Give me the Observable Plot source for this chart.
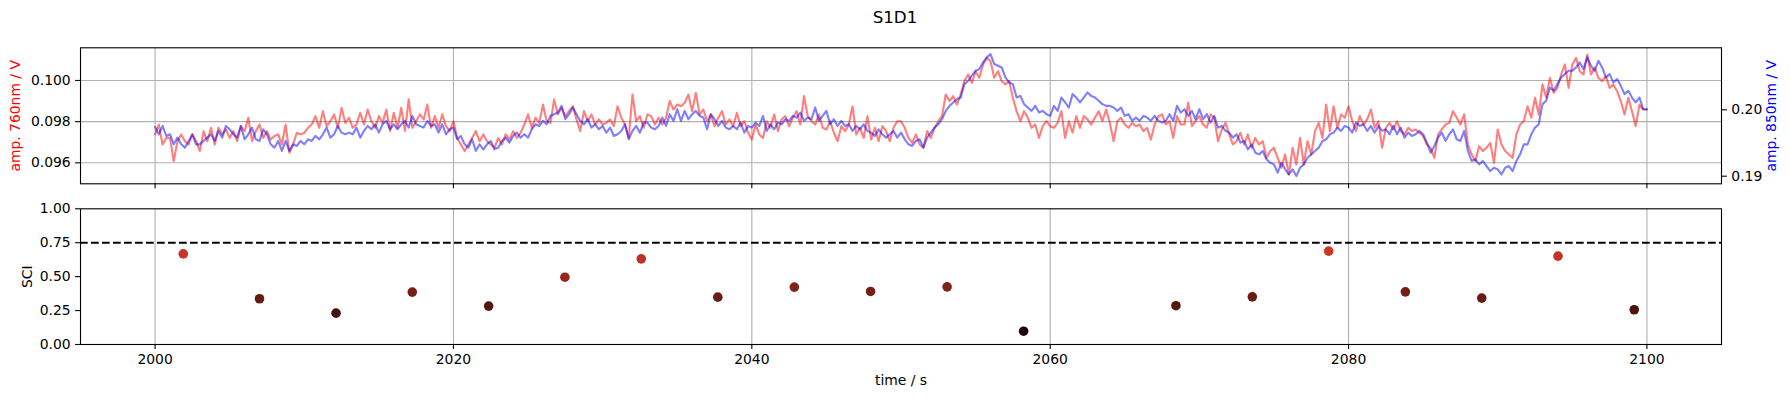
<!DOCTYPE html>
<html><head><meta charset="utf-8">
<script src="https://cdn.jsdelivr.net/npm/d3@7"></script>
<script src="https://cdn.jsdelivr.net/npm/@observablehq/plot@0.6"></script>
<style>
html,body{margin:0;padding:0;background:#fff;}
#wrap{position:relative;width:1790px;height:397px;overflow:hidden;font-family:"DejaVu Sans",sans-serif;color:#000;}
#title{position:absolute;left:0;top:7px;width:1790px;text-align:center;font-size:16.7px;line-height:20px;}
.layer{position:absolute;left:0;}
</style></head><body>
<div id="wrap"><div id="title">S1D1</div></div>
<script>
// sampling of the two amplitude series (s)
const t0 = 2000, dt = 0.25;
// amp. 760nm / V  (left axis)
const amp760 = [
0.09738,0.09786,0.09689,0.09721, 0.09721,0.09608,0.09705,0.09738, 0.09705,0.09689,0.09738,0.09705, 0.09657,0.09754,0.09705,0.09770,
0.09689,0.09770,0.09738,0.09762, 0.09721,0.09754,0.09705,0.09778, 0.09754,0.09819,0.09705,0.09754, 0.09786,0.09721,0.09754,0.09713,
0.09730,0.09738,0.09689,0.09786, 0.09649,0.09689,0.09746,0.09738, 0.09746,0.09770,0.09786,0.09827, 0.09770,0.09851,0.09778,0.09802,
0.09835,0.09770,0.09867,0.09794, 0.09819,0.09770,0.09786,0.09843, 0.09786,0.09859,0.09802,0.09770, 0.09827,0.09794,0.09859,0.09754,
0.09843,0.09770,0.09867,0.09754, 0.09908,0.09770,0.09802,0.09835, 0.09811,0.09883,0.09770,0.09827, 0.09770,0.09835,0.09778,0.09754,
0.09802,0.09721,0.09689,0.09657, 0.09689,0.09721,0.09754,0.09705, 0.09738,0.09705,0.09689,0.09673, 0.09721,0.09689,0.09738,0.09713,
0.09754,0.09721,0.09746,0.09786, 0.09835,0.09770,0.09819,0.09794, 0.09883,0.09802,0.09794,0.09908, 0.09835,0.09867,0.09827,0.09851,
0.09875,0.09811,0.09754,0.09851, 0.09802,0.09835,0.09786,0.09811, 0.09786,0.09794,0.09811,0.09778, 0.09875,0.09819,0.09786,0.09721,
0.09932,0.09802,0.09827,0.09770, 0.09835,0.09827,0.09786,0.09819, 0.09786,0.09819,0.09900,0.09859, 0.09883,0.09875,0.09892,0.09932,
0.09851,0.09940,0.09835,0.09859, 0.09802,0.09835,0.09778,0.09819, 0.09851,0.09786,0.09811,0.09778, 0.09843,0.09778,0.09802,0.09746,
0.09713,0.09786,0.09738,0.09721, 0.09802,0.09770,0.09835,0.09754, 0.09811,0.09827,0.09778,0.09819, 0.09851,0.09786,0.09924,0.09827,
0.09802,0.09786,0.09835,0.09770, 0.09762,0.09802,0.09746,0.09705, 0.09778,0.09754,0.09786,0.09875, 0.09738,0.09770,0.09721,0.09827,
0.09713,0.09770,0.09705,0.09778, 0.09754,0.09705,0.09770,0.09802, 0.09802,0.09770,0.09721,0.09697, 0.09738,0.09689,0.09673,0.09754,
0.09721,0.09770,0.09802,0.09827, 0.09932,0.09900,0.09924,0.09883, 0.09932,0.09997,0.10029,0.09989, 0.10045,0.10013,0.10078,0.10110,
0.10094,0.10013,0.10045,0.09997, 0.09981,0.09997,0.09916,0.09851, 0.09802,0.09851,0.09819,0.09770, 0.09786,0.09721,0.09778,0.09802,
0.09778,0.09770,0.09794,0.09851, 0.09721,0.09802,0.09746,0.09827, 0.09770,0.09827,0.09811,0.09786, 0.09819,0.09851,0.09802,0.09859,
0.09794,0.09705,0.09802,0.09819, 0.09786,0.09770,0.09794,0.09778, 0.09786,0.09754,0.09770,0.09713, 0.09786,0.09827,0.09835,0.09786,
0.09802,0.09721,0.09827,0.09786, 0.09786,0.09892,0.09778,0.09802, 0.09827,0.09786,0.09770,0.09835, 0.09819,0.09705,0.09762,0.09794,
0.09738,0.09689,0.09705,0.09746, 0.09689,0.09738,0.09673,0.09721, 0.09689,0.09705,0.09624,0.09657, 0.09673,0.09624,0.09576,0.09640,
0.09543,0.09673,0.09592,0.09721, 0.09592,0.09705,0.09640,0.09754, 0.09794,0.09721,0.09883,0.09754, 0.09875,0.09770,0.09835,0.09819,
0.09875,0.09802,0.09754,0.09827, 0.09786,0.09811,0.09859,0.09770, 0.09802,0.09673,0.09770,0.09794, 0.09762,0.09802,0.09754,0.09738,
0.09770,0.09754,0.09762,0.09746, 0.09730,0.09689,0.09673,0.09624, 0.09738,0.09762,0.09786,0.09794, 0.09851,0.09819,0.09786,0.09835,
0.09689,0.09640,0.09608,0.09681, 0.09657,0.09673,0.09697,0.09600, 0.09762,0.09689,0.09657,0.09640, 0.09624,0.09738,0.09786,0.09802,
0.09875,0.09819,0.09916,0.09835, 0.09981,0.09916,0.10013,0.09940, 0.09964,0.10029,0.10078,0.09964, 0.10078,0.10110,0.10045,0.10029,
0.10126,0.10029,0.10062,0.10013, 0.09997,0.10021,0.09964,0.09981, 0.09948,0.09900,0.09835,0.09916, 0.09851,0.09778,0.09883,0.09859,
0.09859
];
// amp. 850nm / V  (right axis)
const amp850 = [
0.19742,0.19631,0.19757,0.19606, 0.19631,0.19480,0.19581,0.19480, 0.19430,0.19531,0.19631,0.19480, 0.19480,0.19531,0.19581,0.19631,
0.19531,0.19682,0.19581,0.19757, 0.19707,0.19631,0.19581,0.19757, 0.19556,0.19631,0.19732,0.19556, 0.19531,0.19707,0.19631,0.19480,
0.19430,0.19531,0.19380,0.19531, 0.19380,0.19480,0.19455,0.19531, 0.19480,0.19556,0.19531,0.19606, 0.19556,0.19631,0.19732,0.19581,
0.19631,0.19757,0.19656,0.19631, 0.19656,0.19631,0.19732,0.19581, 0.19682,0.19757,0.19707,0.19782, 0.19656,0.19782,0.19833,0.19707,
0.19782,0.19707,0.19782,0.19833, 0.19732,0.19908,0.19782,0.19757, 0.19732,0.19833,0.19757,0.19782, 0.19656,0.19782,0.19631,0.19707,
0.19732,0.19556,0.19606,0.19480, 0.19430,0.19556,0.19380,0.19480, 0.19405,0.19480,0.19531,0.19405, 0.19430,0.19531,0.19581,0.19505,
0.19606,0.19656,0.19581,0.19631, 0.19581,0.19707,0.19782,0.19757, 0.19833,0.19782,0.19908,0.19934, 0.19959,0.20059,0.19858,0.19934,
0.20034,0.19934,0.19833,0.19782, 0.19858,0.19732,0.19782,0.19707, 0.19757,0.19656,0.19732,0.19606, 0.19631,0.19682,0.19782,0.19556,
0.19682,0.19757,0.19656,0.19808, 0.19808,0.19732,0.19707,0.19757, 0.19883,0.19757,0.19934,0.19833, 0.20009,0.19833,0.19984,0.19858,
0.19934,0.19984,0.19908,0.19883, 0.19707,0.19934,0.19858,0.19757, 0.19833,0.19732,0.19707,0.19757, 0.19707,0.19808,0.19656,0.19757,
0.19732,0.19808,0.19757,0.19908, 0.19682,0.19782,0.19707,0.19808, 0.19782,0.19858,0.19833,0.19908, 0.19883,0.19959,0.19833,0.19883,
0.19858,0.20034,0.19833,0.19908, 0.19984,0.19782,0.19858,0.19757, 0.19833,0.19757,0.19782,0.19682, 0.19757,0.19707,0.19782,0.19682,
0.19656,0.19606,0.19707,0.19631, 0.19581,0.19631,0.19682,0.19581, 0.19656,0.19556,0.19480,0.19455, 0.19531,0.19556,0.19430,0.19581,
0.19656,0.19732,0.19782,0.19858, 0.19984,0.20059,0.20110,0.20160, 0.20185,0.20387,0.20437,0.20513, 0.20588,0.20613,0.20714,0.20790,
0.20840,0.20689,0.20663,0.20638, 0.20487,0.20412,0.20387,0.20185, 0.20210,0.20085,0.20034,0.19984, 0.20059,0.19959,0.19984,0.19934,
0.19908,0.20059,0.19984,0.20185, 0.20110,0.20034,0.20236,0.20185, 0.20110,0.20185,0.20261,0.20210, 0.20185,0.20135,0.20085,0.20059,
0.20059,0.20034,0.19984,0.20034, 0.19908,0.19934,0.19833,0.19883, 0.19833,0.19908,0.19883,0.19833, 0.19908,0.19833,0.19808,0.19833,
0.19934,0.19833,0.20059,0.19959, 0.20009,0.19908,0.19984,0.19858, 0.20009,0.19858,0.19934,0.19808, 0.19908,0.19732,0.19757,0.19682,
0.19656,0.19581,0.19631,0.19505, 0.19531,0.19405,0.19480,0.19354, 0.19329,0.19380,0.19254,0.19203, 0.19178,0.19052,0.19203,0.19103,
0.19027,0.19103,0.19002,0.19128, 0.19178,0.19279,0.19329,0.19380, 0.19430,0.19531,0.19556,0.19631, 0.19656,0.19732,0.19682,0.19757,
0.19732,0.19656,0.19808,0.19757, 0.19782,0.19682,0.19757,0.19656, 0.19757,0.19682,0.19707,0.19631, 0.19757,0.19631,0.19732,0.19581,
0.19656,0.19606,0.19631,0.19682, 0.19631,0.19505,0.19354,0.19455, 0.19581,0.19656,0.19531,0.19631, 0.19707,0.19556,0.19531,0.19682,
0.19380,0.19229,0.19254,0.19178, 0.19229,0.19153,0.19077,0.19128, 0.19103,0.19027,0.19128,0.19153, 0.19077,0.19229,0.19329,0.19480,
0.19480,0.19631,0.19732,0.19782, 0.20085,0.20135,0.20336,0.20286, 0.20387,0.20487,0.20538,0.20588, 0.20588,0.20638,0.20714,0.20613,
0.20790,0.20663,0.20588,0.20739, 0.20638,0.20487,0.20538,0.20412, 0.20462,0.20361,0.20236,0.20286, 0.20185,0.20110,0.20185,0.20009,
0.20009
];
// SCI per window
const sciTime  = [2001.89,2007.00,2012.13,2017.24,2022.36,2027.47,2032.59,2037.72,2042.85,2047.96,2053.09,2058.22,2068.43,2073.55,2078.67,2083.81,2088.93,2094.04,2099.15];
const sciValue = [0.668,0.337,0.231,0.386,0.283,0.496,0.631,0.349,0.423,0.391,0.425,0.098,0.286,0.351,0.688,0.388,0.342,0.651,0.256];
const sciThreshold = 0.75;
// ticks
const timeTicks = [2000,2020,2040,2060,2080,2100];
const ampTicks760 = [0.096,0.098,0.100];
const ampTicks850 = [0.19,0.20];
const sciTicks = [0,0.25,0.5,0.75,1];

const W = 1790, ML = 80, MR = 69;
const xDomain = [1995, 2105];
const style = {fontFamily: '"DejaVu Sans", sans-serif', fontSize: "13.9px", background: "transparent", color: "black", overflow: "visible"};
const gridStyle = {stroke: "#b0b0b0", strokeOpacity: 1, strokeWidth: 1.1};
const tk = {tickSize: 4.9, tickPadding: 4.9, strokeWidth: 1.1, label: null};
const lab = {text: d => d, textAnchor: "middle", lineAnchor: "middle"};

const s760 = amp760.map((v, i) => ({t: t0 + i * dt, v}));
const s850 = amp850.map((v, i) => ({t: t0 + i * dt, v}));
const sci = sciTime.map((t, i) => ({t, v: sciValue[i]}));

const wrap = document.getElementById("wrap");
function place(svg, top) { svg.classList.add("layer"); svg.style.position = "absolute"; svg.style.left = "0px"; svg.style.top = top + "px"; wrap.appendChild(svg); }

const topLeft = Plot.plot({
  width: W, height: 170, marginLeft: ML, marginRight: MR, marginTop: 17.3, marginBottom: 16.7,
  style,
  x: {domain: xDomain},
  y: {domain: [0.094981, 0.101587]},
  marks: [
    Plot.gridX(timeTicks, gridStyle),
    Plot.gridY(ampTicks760, gridStyle),
    Plot.line(s760, {x: "t", y: "v", stroke: "red", strokeOpacity: 0.5, strokeWidth: 2.1}),
    Plot.axisX({ticks: timeTicks, tickFormat: () => "", ...tk}),
    Plot.axisY({ticks: ampTicks760, tickFormat: ".3f", ...tk}),
    Plot.frame({stroke: "black", strokeWidth: 1.1}),
    Plot.text(["amp. 760nm / V"], {...lab, frameAnchor: "left", dx: -64.5, rotate: -90, fill: "red"})
  ]
});
place(topLeft, 30);

const topRight = Plot.plot({
  width: W, height: 170, marginLeft: ML, marginRight: MR, marginTop: 17.3, marginBottom: 16.7,
  style,
  x: {domain: xDomain, axis: null},
  y: {domain: [0.188855, 0.209337]},
  marks: [
    Plot.line(s850, {x: "t", y: "v", stroke: "blue", strokeOpacity: 0.5, strokeWidth: 2.1}),
    Plot.axisY({anchor: "right", ticks: ampTicks850, tickFormat: ".2f", ...tk}),
    Plot.text(["amp. 850nm / V"], {...lab, frameAnchor: "right", dx: 50, rotate: -90, fill: "blue"})
  ]
});
place(topRight, 30);

const bottom = Plot.plot({
  width: W, height: 202, marginLeft: ML, marginRight: MR, marginTop: 13.3, marginBottom: 53,
  style,
  x: {domain: xDomain},
  y: {domain: [0, 1]},
  color: {type: "linear", domain: [0, 0.8], range: ["#000000", "#f0402c"], interpolate: "rgb", clamp: true},
  marks: [
    Plot.gridX(timeTicks, gridStyle),
    Plot.ruleY([sciThreshold], {stroke: "black", strokeWidth: 2.1, strokeDasharray: "7.7,3.3"}),
    Plot.dot(sci, {x: "t", y: "v", fill: "v", r: 4.8}),
    Plot.axisX({ticks: timeTicks, tickFormat: "d", ...tk}),
    Plot.axisY({ticks: sciTicks, tickFormat: ".2f", ...tk}),
    Plot.frame({stroke: "black", strokeWidth: 1.1}),
    Plot.text(["SCI"], {...lab, frameAnchor: "left", dx: -53, rotate: -90}),
    Plot.text(["time / s"], {...lab, frameAnchor: "bottom", dy: 36})
  ]
});
place(bottom, 195);
</script>
</body></html>
